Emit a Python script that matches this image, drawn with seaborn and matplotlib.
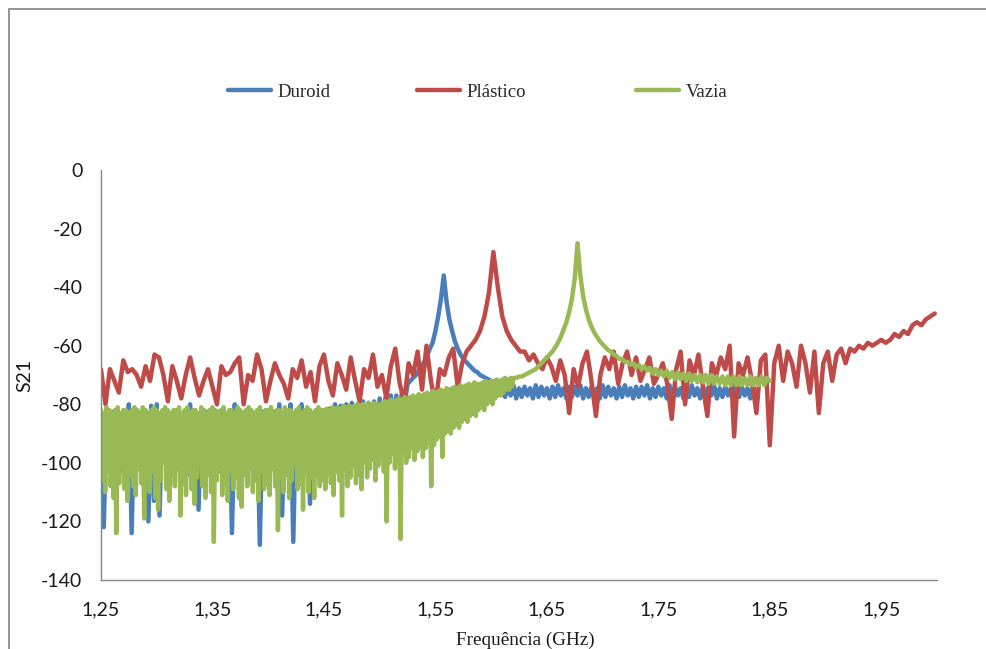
import numpy as np
import pandas as pd
import matplotlib
matplotlib.use("Agg")
import matplotlib.pyplot as plt
from matplotlib.patches import Rectangle
from matplotlib.lines import Line2D
import seaborn as sns

# Sweep start and steps (GHz)
f_start = 1.25
step_fine = 0.0025   # Duroid sweep and Vazia above 1.62 GHz
step_coarse = 0.004  # Plástico sweep
f_vazia_peak = 1.6225  # start of the smooth part of the Vazia sweep

# S21 (dB) - Duroid
duroid = [
    -82.5, -122, -83, -101, -82.5, -99, -83, -103, -82.5, -100,
    -80, -124, -82.5, -102, -83, -98, -82.5, -120, -80.5, -113,
    -80, -118, -83, -100, -82.5, -103, -83, -99, -82.5, -101,
    -83, -104, -80, -98, -82.5, -116, -83, -100, -82.5, -102,
    -83, -99, -82.5, -103, -83, -101, -82.5, -124, -80, -100,
    -82.5, -98, -83, -102, -82.5, -104, -83, -128, -82.5, -101,
    -83, -99, -82.5, -103, -80, -118, -82.5, -100, -80, -127,
    -83, -102, -80, -99, -82.5, -114, -83, -101, -82.5, -98,
    -82, -100, -81.5, -97, -80, -99, -80.5, -96, -80, -98,
    -79.5, -95, -80, -97, -79, -94, -79.5, -96, -79, -93,
    -78, -92, -78, -89, -77, -87, -77, -84, -76, -80,
    -73, -72, -71, -70, -68.5, -67, -65.5, -63.5, -61, -59,
    -55, -50, -44, -36, -45, -51, -55, -58.5, -61, -63,
    -64.5, -65.5, -66.5, -67.5, -68.5, -69, -70, -70.5, -71, -71.5,
    -72, -72.5, -73, -73.5, -74,
    -77.5, -74, -77, -73.5, -78, -74.5, -77.5, -74, -77, -74.5,
    -78, -73.5, -77.5, -74, -77, -74.5, -78, -74, -77.5, -73.5,
    -77, -74.5, -78, -74, -77.5, -74, -77, -73.5, -78, -74.5,
    -77.5, -74, -77, -74.5, -78, -73.5, -77.5, -74, -77, -74.5,
    -78, -74, -77.5, -73.5, -77, -74.5, -78, -74, -77.5, -74,
    -77, -73.5, -78, -74.5, -77.5, -74, -77, -74.5, -78, -73.5,
    -77.5, -74, -77, -74.5, -78, -74, -77.5, -73.5, -77, -74.5,
    -78, -74, -77.5, -74, -77, -73.5, -78, -74.5, -77.5, -74,
    -77, -74.5, -78, -73.5, -77.5, -74, -77, -74.5, -78, -74,
    -76,
]

# S21 (dB) - Plástico
plastico = [
    -68, -80, -68, -72, -76, -65, -69, -68, -70, -74,
    -67, -72, -63, -64, -70, -79, -67, -72, -78, -70,
    -64, -71, -77, -72, -68, -74, -80, -67, -70, -69,
    -66, -64, -80, -70, -72, -63, -68, -79, -72, -66,
    -70, -73, -78, -68, -71, -65, -74, -69, -79, -67,
    -63, -72, -77, -66, -70, -75, -64, -72, -79, -68,
    -71, -63, -74, -70, -78, -67, -61, -73, -79, -66,
    -70, -62, -75, -60, -72, -80, -68, -70, -64, -61,
    -74, -66, -62, -60, -58, -55, -50, -42, -28, -40,
    -50, -55, -58, -60, -62, -62, -65, -63, -66, -68,
    -64, -67, -72, -65, -70, -83, -68, -74, -66, -62,
    -72, -84, -70, -64, -68, -62, -73, -66, -62, -70,
    -64, -72, -68, -64, -73, -70, -66, -73, -85, -68,
    -62, -80, -65, -70, -63, -74, -84, -66, -70, -64,
    -68, -60, -91, -66, -70, -64, -72, -83, -65, -63,
    -94, -66, -60, -72, -62, -66, -74, -60, -66, -76,
    -62, -83, -66, -62, -72, -63, -61, -66, -61, -62,
    -60, -61, -59, -60, -59, -58, -59, -58, -56, -57,
    -55, -56, -53, -52, -53, -51, -50, -49,
]

# S21 (dB) - Vazia, 1.25-1.62 GHz: upper and lower turning points of the
# fast ripple (upper points every 2.5 MHz, lower points half-way between)
vazia_top = [
    -82, -83, -81, -82, -83, -82, -81, -83, -82, -82,
    -83, -82, -81, -82, -83, -81, -82, -83, -82, -81,
    -82, -83, -82, -81, -82, -83, -82, -82, -81, -83,
    -82, -81, -83, -82, -82, -83, -81, -82, -83, -82,
    -81, -82, -83, -82, -81, -83, -82, -82, -83, -81,
    -82, -83, -82, -81, -82, -83, -82, -81, -83, -82,
    -82, -81, -83, -82, -82, -83, -81, -82, -82, -83,
    -82, -81, -83, -82, -81, -82, -83, -82, -81, -82,
    -82, -81.5, -82, -81, -81.5, -81, -81.5, -80.5, -81, -80.5,
    -81, -80.5, -80, -80.5, -80, -80.5, -79.5, -80, -79.5, -80,
    -80, -79.5, -79, -79.5, -78.5, -79, -78.5, -78, -78.5, -77.5,
    -78, -77.5, -77, -77.5, -76.5, -77, -76.5, -76, -76.5, -75.5,
    -76, -75.5, -75, -75.5, -74.5, -75, -74.5, -74, -74.5, -73.5,
    -74, -73.5, -73, -73.5, -72.5, -73, -73, -72.5, -72, -72.5,
    -72, -72, -71.5, -72, -71.5, -71, -71.5, -71, -71,
]
vazia_bottom = [
    -106, -110, -103, -108, -112, -124, -107, -101, -109, -113,
    -104, -108, -111, -102, -107, -119, -105, -110, -103, -112,
    -116, -106, -100, -109, -113, -104, -108, -102, -118, -107,
    -111, -103, -109, -114, -105, -101, -108, -112, -104, -110,
    -127, -106, -102, -111, -107, -113, -103, -109, -105, -112,
    -115, -104, -108, -101, -110, -106, -113, -103, -109, -107,
    -111, -102, -108, -123, -105, -110, -104, -112, -106, -101,
    -109, -107, -116, -103, -110, -105, -112, -104, -108, -106,
    -109, -104, -107, -111, -103, -106, -118, -102, -108, -105,
    -101, -107, -104, -109, -100, -105, -102, -99, -106, -101,
    -98, -103, -120, -100, -97, -102, -99, -126, -96, -100,
    -98, -95, -99, -96, -94, -98, -95, -93, -108, -94,
    -92, -91, -98, -90, -89, -90, -88, -87, -88, -86,
    -85, -86, -84, -83, -84, -82, -81, -82, -80, -79,
    -80, -78, -77, -77, -76, -75, -75, -74,
]
# S21 (dB) - Vazia, 1.6225-1.85 GHz (resonance and tail)
vazia_peak = [
    -71, -70.5, -70.5, -70, -69.5, -69, -68.5, -68, -67, -66,
    -65, -64, -63, -62, -60.5, -59, -57, -54.5, -52, -48.5,
    -44, -37, -25, -36, -43, -47.5, -51, -53.5, -55.5, -57,
    -58.5, -59.5, -60.5, -61.5, -62, -63, -63.5, -64.5, -64.5, -65.5,
    -65.5, -66.5, -66, -67.5, -66.5, -68, -67, -68.5, -67.5, -69.5,
    -68, -70, -68.5, -70.5, -68.5, -71, -69, -71.5, -69, -71.5,
    -69.5, -72, -69.5, -72, -70, -72.5, -70, -72.5, -70, -73,
    -70, -73, -70.5, -73, -70.5, -73.5, -70.5, -73.5, -70.5, -73.5,
    -70.5, -73.5, -71, -73.5, -70.5, -73.5, -71, -73.5, -70.5, -73.5,
    -71, -72,
]

series_names = ["Duroid", "Plástico", "Vazia"]
series_colors = ["#4A7EBB", "#BE4B48", "#98B954"]
x_ticks = [1.25, 1.35, 1.45, 1.55, 1.65, 1.75, 1.85, 1.95]
x_tick_labels = ["1,25", "1,35", "1,45", "1,55", "1,65", "1,75", "1,85", "1,95"]
y_ticks = [0, -20, -40, -60, -80, -100, -120, -140]

# Assemble the Vazia sweep: ripple turning points in frequency order,
# followed by the resonance part
f_top = f_start + step_fine * np.arange(len(vazia_top))
f_bot = f_start + step_fine * (np.arange(len(vazia_bottom)) + 0.5)
ripple = sorted(list(zip(f_top, vazia_top)) + list(zip(f_bot, vazia_bottom)))
f_peak = f_vazia_peak + step_fine * np.arange(len(vazia_peak))
vazia_f = np.concatenate([[p[0] for p in ripple], f_peak])
vazia_s = np.concatenate([[p[1] for p in ripple], vazia_peak])

frames = [
    pd.DataFrame({"freq": f_start + step_fine * np.arange(len(duroid)),
                  "s21": duroid, "serie": "Duroid"}),
    pd.DataFrame({"freq": f_start + step_coarse * np.arange(len(plastico)),
                  "s21": plastico, "serie": "Plástico"}),
    pd.DataFrame({"freq": vazia_f, "s21": vazia_s, "serie": "Vazia"}),
]
df = pd.concat(frames, ignore_index=True)

sns.set_style("white")
plt.rcParams["font.family"] = ["Lato", "DejaVu Sans"]
# keep every vertex of the dense sweeps
plt.rcParams["path.simplify"] = False

W, H = 987, 649
fig = plt.figure(figsize=(W / 100, H / 100), dpi=100)
ax = fig.add_axes([101 / W, 1 - 580 / H, (937 - 101) / W, (580 - 170) / H])

sns.lineplot(data=df, x="freq", y="s21", hue="serie", hue_order=series_names,
             palette=dict(zip(series_names, series_colors)), estimator=None,
             sort=False, linewidth=3.2, ax=ax, legend=False,
             solid_joinstyle="round", solid_capstyle="round")

ax.set_xlim(1.25, 2.0)
ax.set_ylim(-140, 0)
ax.set_xticks(x_ticks)
ax.set_xticklabels(x_tick_labels)
ax.set_yticks(y_ticks)
ax.set_yticklabels([str(v) for v in y_ticks])

spine_col = "#868686"
for s in ["top", "right"]:
    ax.spines[s].set_visible(False)
for s in ["left", "bottom"]:
    ax.spines[s].set_color(spine_col)
    ax.spines[s].set_linewidth(1.0)
ax.tick_params(axis="both", colors=spine_col, labelcolor="#1a1a1a",
               labelsize=14, length=4.5, width=1.0, direction="out")
ax.tick_params(axis="y", pad=9)
ax.tick_params(axis="x", pad=11)

ax.set_ylabel("S21", fontsize=14, color="#1a1a1a")
ax.yaxis.set_label_coords(-0.0813, 0.5)
ax.set_xlabel("Frequência (GHz)", fontsize=13.8, color="#1a1a1a",
              family=["Liberation Serif", "DejaVu Serif"])
ax.xaxis.set_label_coords(0.508, -0.125)

# Legend entries across the top
legend_pos = [228, 417, 636]
for name, col, px in zip(series_names, series_colors, legend_pos):
    handle = Line2D([], [], color=col, linewidth=3.2)
    fig.legend([handle], [name], loc="center left",
               bbox_to_anchor=(px / W, 1 - 92 / H), frameon=False,
               borderpad=0, borderaxespad=0, handlelength=2.3,
               handletextpad=0.35,
               prop={"family": ["Liberation Serif", "DejaVu Serif"],
                     "size": 13.5})

# Chart-area border
fig.add_artist(Rectangle((9 / W, -0.2), 1.3, 1.2 - 9 / H,
                         transform=fig.transFigure, fill=False,
                         edgecolor="#8c8c8c", linewidth=1.3))

fig.savefig("out.png", dpi=100)
